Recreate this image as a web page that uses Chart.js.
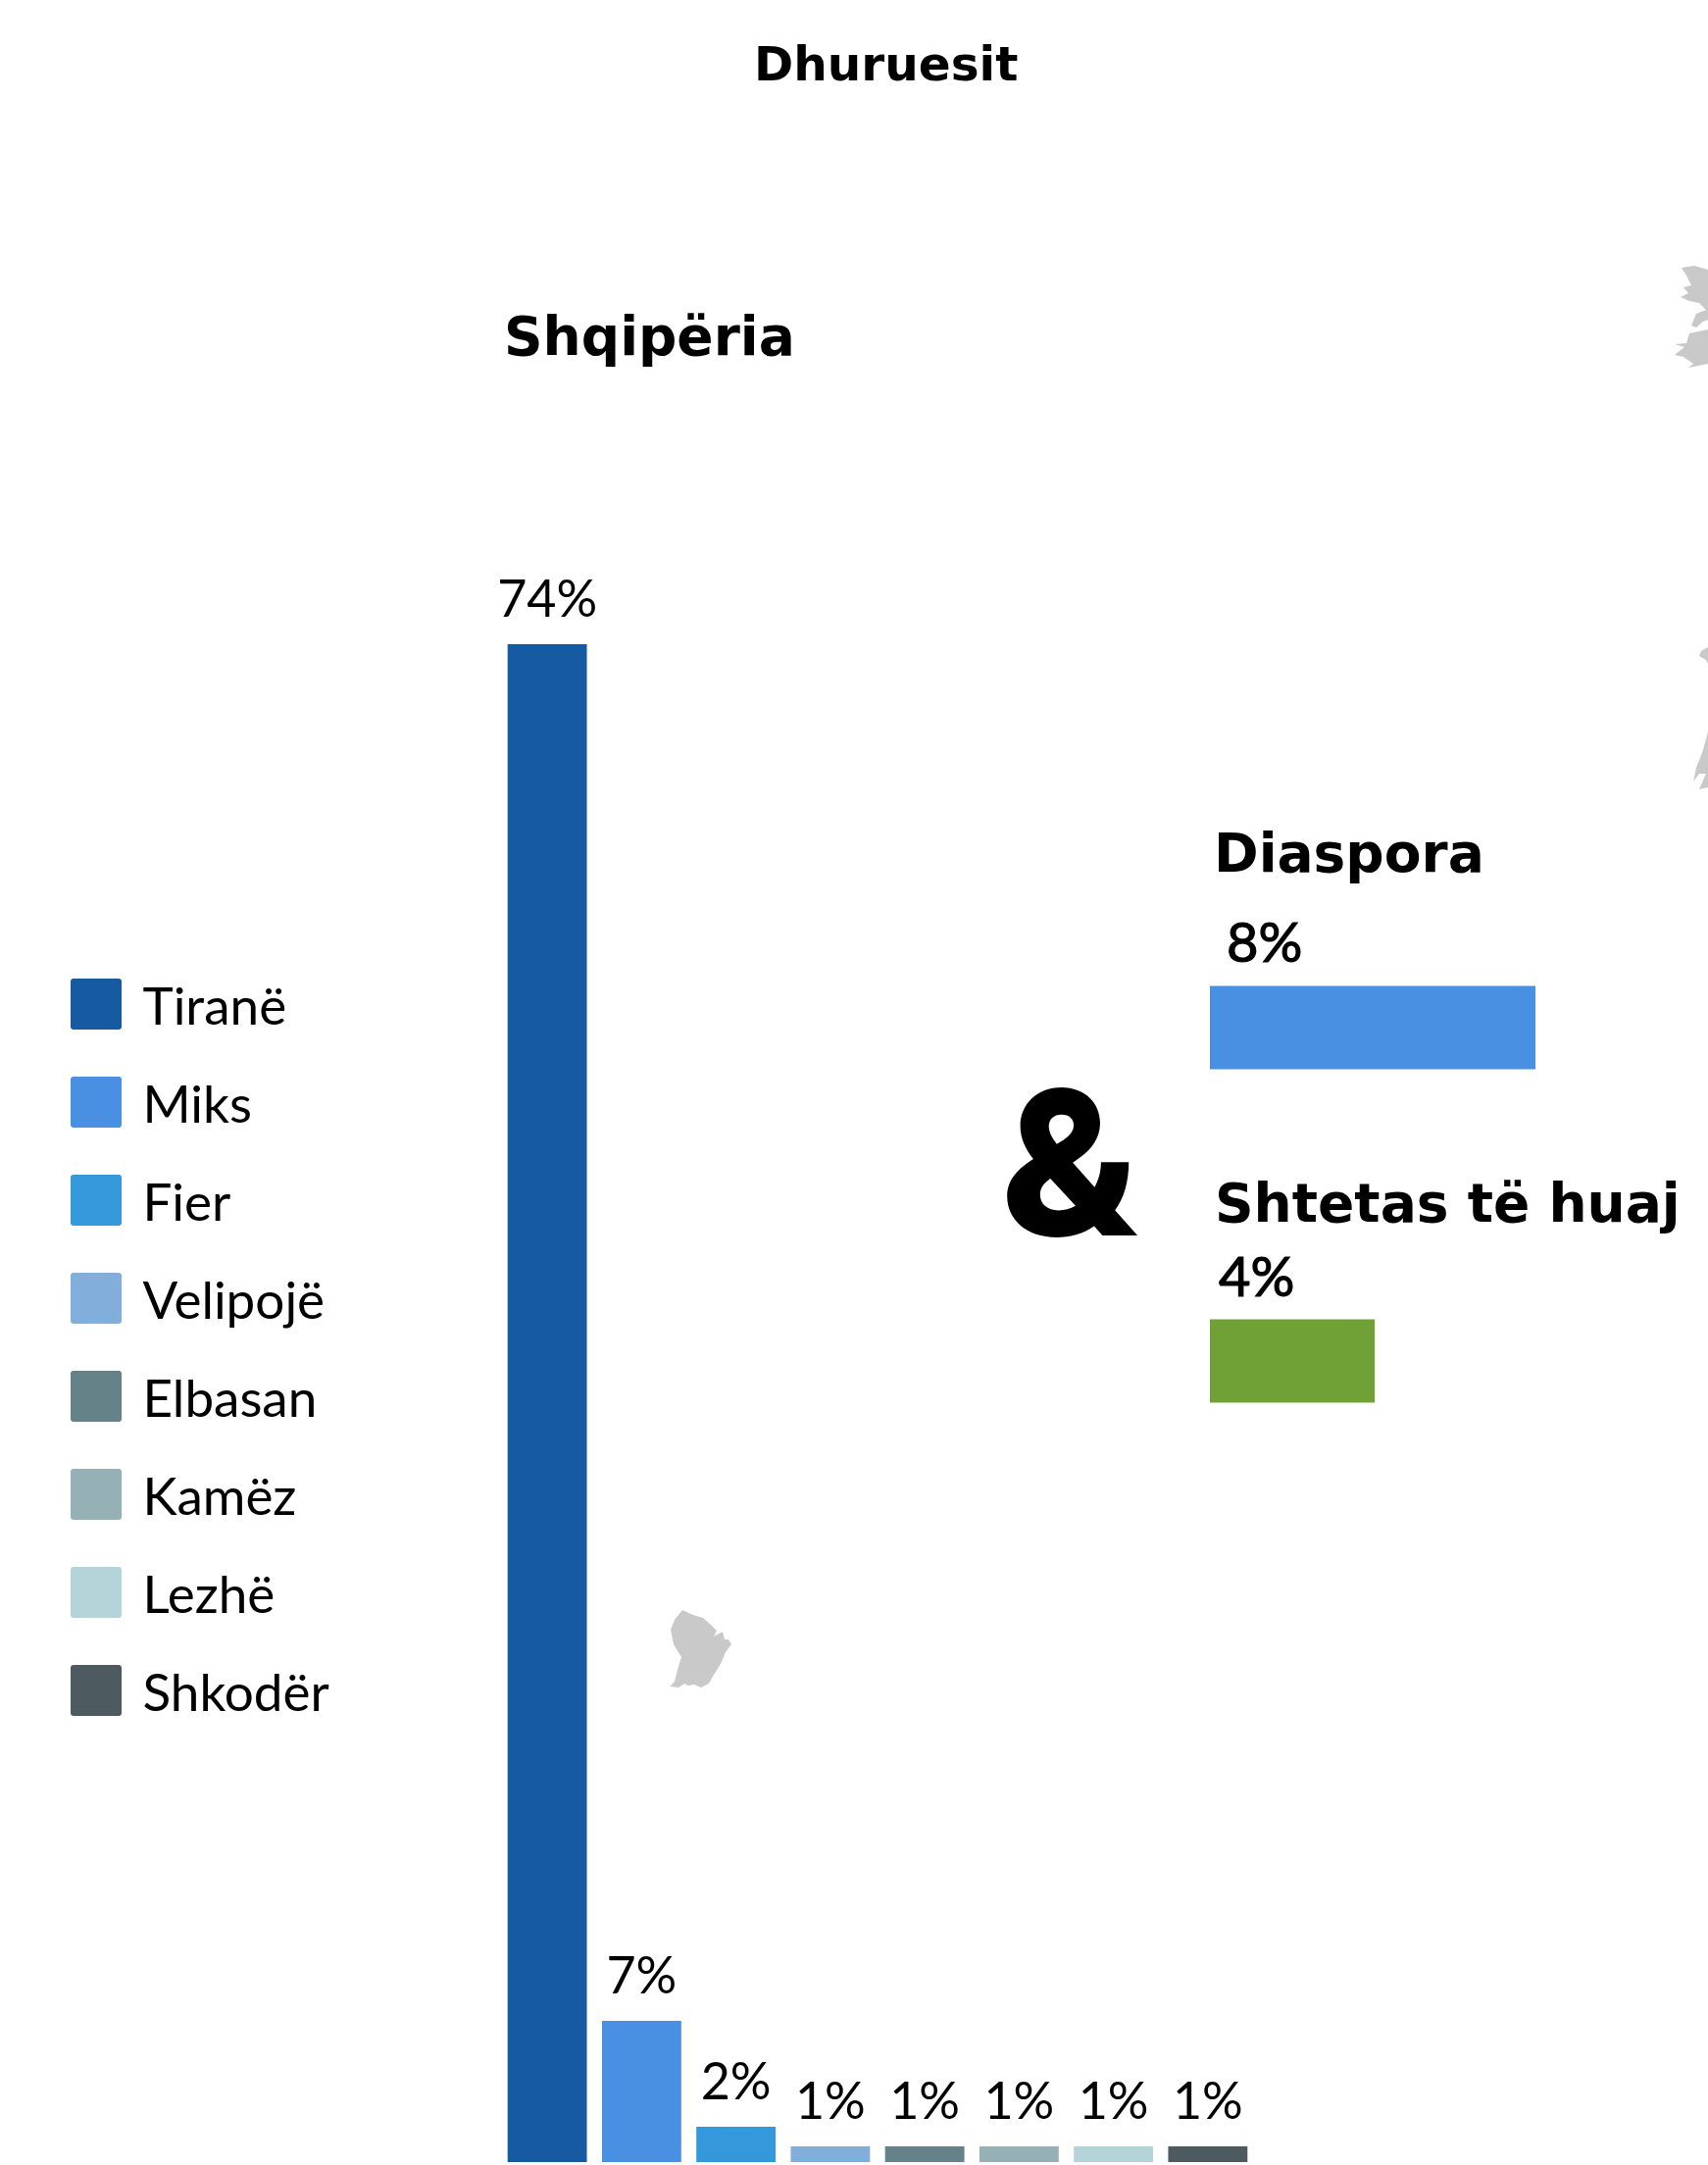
<!DOCTYPE html>
<html><head><meta charset="utf-8">
<script src="https://cdn.jsdelivr.net/npm/chart.js@4"></script>
<style>
html,body{margin:0;padding:0;background:#fff;width:1742px;height:2208px;overflow:hidden}
canvas{position:absolute;display:block}
.t{position:absolute;font-family:"DejaVu Sans",sans-serif;font-weight:700;color:#000;white-space:nowrap;line-height:1}
svg{position:absolute;left:0;top:0}
</style></head><body>
<svg width="1742" height="2208" fill="#c9c9c9">
<path d="M696 1642L707 1647L717 1650L725 1657L731 1663L728 1669L737 1664L739 1672L743 1672L746 1677L740 1685L735 1697L728 1708L723 1717L715 1721L708 1718L702 1719L698 1717L692 1721L683 1720L688 1715L691 1703L695 1690L687 1677L684 1662L688 1652Z"/>
<path d="M1715 273L1728 271L1742 275L1742 326L1737 328L1730 334L1725 332L1730 320L1740 316L1733 309L1723 307L1714 303L1722 299L1717 293L1725 291L1720 281Z"/>
<path d="M1742 336L1723 340L1720 350L1708 351L1718 354L1708 362L1717 364L1727 371L1722 375L1742 371Z"/>
<path d="M1742 660L1735 664L1733 669L1740 673L1742 677Z"/>
<path d="M1742 746L1737 765L1730 783L1727 797L1733 789L1740 789L1733 805L1742 803Z"/>
</svg>
<canvas id="mainChart" style="left:0;top:543px" width="1280" height="1665"></canvas>
<canvas id="sideChart" style="left:1234px;top:778px" width="508" height="780"></canvas>
<div class="t" style="left:769px;top:41px;font-size:48.5px">Dhuruesit</div>
<div class="t" style="left:514px;top:315.5px;font-size:55px">Shqipëria</div>
<div class="t" style="left:1020px;top:1083px;font-size:205px;font-family:Inter,sans-serif;font-weight:800">&amp;</div>
<script>
const cityLabels = ['Tiranë','Miks','Fier','Velipojë','Elbasan','Kamëz','Lezhë','Shkodër'];
const cityValues = [74, 6.88, 1.72, 0.765, 0.765, 0.765, 0.765, 0.765];
const cityTexts = ['74%','7%','2%','1%','1%','1%','1%','1%'];
const cityColors = ['#165AA2','#4A90E2','#3498DB','#82AEDC','#648287','#95B1B6','#B5D4DA','#4D5B61'];
const sideLabels = ['Diaspora','Shtetas të huaj'];
const sideValues = [8, 4.05];
const sideTexts = ['8%','4%'];
const sideColors = ['#4A90E2','#6FA136'];

const plotLeft = 510;
let axisWidth = 100;

const topLabels = {
  id: 'topLabels',
  afterDatasetsDraw(chart) {
    const ctx = chart.ctx, meta = chart.getDatasetMeta(0);
    ctx.save();
    ctx.font = '52px Lato'; ctx.fillStyle = '#000';
    ctx.textAlign = 'center'; ctx.textBaseline = 'alphabetic';
    meta.data.forEach((bar, i) => ctx.fillText(cityTexts[i], bar.x, bar.y - 28));
    ctx.restore();
  }
};
const mainChart = new Chart(document.getElementById('mainChart'), {
  type: 'bar',
  data: { labels: cityLabels, datasets: [{ data: cityValues, backgroundColor: cityColors, categoryPercentage: 1, barPercentage: 0.84 }] },
  options: {
    responsive: false, animation: false, devicePixelRatio: 1,
    layout: { padding: { left: 25, right: 0, top: 0, bottom: 3 } },
    scales: {
      x: { display: false },
      y: { min: 0, max: 79.45, ticks: { display: false }, grid: { display: false }, border: { display: false },
           afterFit(s) { s.width = axisWidth; } }
    },
    plugins: {
      tooltip: { enabled: false },
      legend: {
        position: 'left', align: 'center',
        labels: {
          boxWidth: 52, boxHeight: 52, padding: 47, useBorderRadius: true, borderRadius: 3,
          color: '#000', font: { family: 'Lato', size: 53 },
          generateLabels: () => cityLabels.map((t, i) => ({ text: t, fillStyle: cityColors[i], strokeStyle: cityColors[i], lineWidth: 0, hidden: false, index: i, borderRadius: 3 }))
        }
      }
    }
  },
  plugins: [topLabels]
});
// nudge the legend's text relative to its colour boxes
const legendBox = mainChart.legend, legendDraw = legendBox.draw;
legendBox.draw = function () {
  const c = this.ctx, f = c.fillText;
  c.fillText = (t, x, y, ...r) => f.call(c, t, x - 5, y + 4, ...r);
  legendDraw.call(this);
  delete c.fillText;
};
axisWidth += plotLeft - mainChart.chartArea.left;
mainChart.update();

const sideText = {
  id: 'sideText',
  afterDatasetsDraw(chart) {
    const ctx = chart.ctx, meta = chart.getDatasetMeta(0);
    ctx.save();
    ctx.fillStyle = '#000'; ctx.strokeStyle = '#000'; ctx.textBaseline = 'alphabetic'; ctx.textAlign = 'left';
    const nameX = [4, 5], nameDy = [-159.5, -142.5], pctX = [17, 9], pctDy = [-67.5, -66.5];
    meta.data.forEach((bar, i) => {
      ctx.font = '700 55px "DejaVu Sans"';
      ctx.fillText(sideLabels[i], nameX[i], bar.y + nameDy[i]);
      ctx.font = '56px Lato'; ctx.lineWidth = 1.2;
      ctx.fillText(sideTexts[i], pctX[i], bar.y + pctDy[i]);
      ctx.strokeText(sideTexts[i], pctX[i], bar.y + pctDy[i]);
    });
    ctx.restore();
  }
};
new Chart(document.getElementById('sideChart'), {
  type: 'bar',
  data: { labels: sideLabels, datasets: [{ data: sideValues, backgroundColor: sideColors, categoryPercentage: 1, barPercentage: 0.25 }] },
  options: {
    indexAxis: 'y', responsive: false, animation: false, devicePixelRatio: 1,
    layout: { padding: { top: 100, left: 0, right: 0, bottom: 0 } },
    scales: { x: { display: false, min: 0, max: 12.24 }, y: { display: false } },
    plugins: { legend: { display: false }, tooltip: { enabled: false } }
  },
  plugins: [sideText]
});
</script>
</body></html>
